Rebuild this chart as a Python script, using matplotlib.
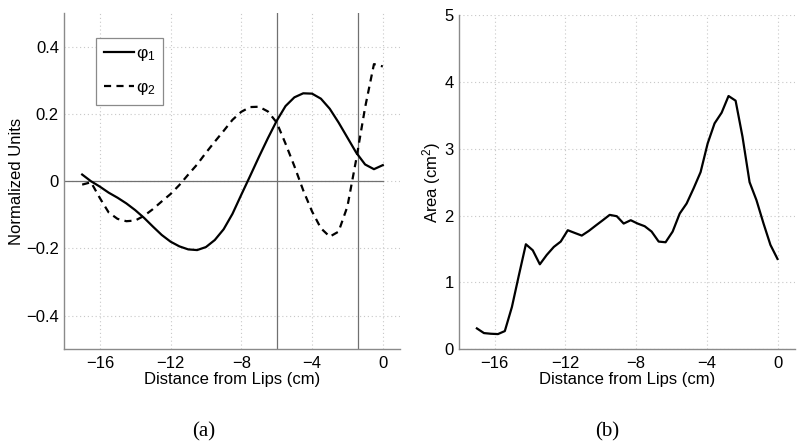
import matplotlib
matplotlib.use("Agg")
import matplotlib.pyplot as plt

plt.rcParams['font.family'] = ['Liberation Sans', 'DejaVu Sans']
plt.rcParams['mathtext.fontset'] = 'custom'
plt.rcParams['mathtext.rm'] = 'Liberation Sans'
plt.rcParams['mathtext.it'] = 'Liberation Sans:italic'

# ---- Panel (a) data ----
x_phi = [-17.0, -16.5, -16.0, -15.5, -15.0, -14.5, -14.0, -13.5, -13.0, -12.5,
         -12.0, -11.5, -11.0, -10.5, -10.0, -9.5, -9.0, -8.5, -8.0, -7.5,
         -7.0, -6.5, -6.0, -5.5, -5.0, -4.5, -4.0, -3.5, -3.0, -2.5,
         -2.0, -1.5, -1.0, -0.5, 0.0]
phi1 = [0.020, 0.000, -0.016, -0.034, -0.049, -0.066, -0.086, -0.109, -0.135, -0.160,
        -0.180, -0.194, -0.203, -0.205, -0.196, -0.175, -0.143, -0.097, -0.040, 0.016,
        0.073, 0.128, 0.180, 0.224, 0.250, 0.262, 0.261, 0.246, 0.216, 0.175,
        0.130, 0.085, 0.050, 0.036, 0.048]
phi2 = [-0.010, -0.003, -0.050, -0.093, -0.112, -0.119, -0.117, -0.103, -0.083, -0.060,
        -0.038, -0.011, 0.020, 0.050, 0.085, 0.118, 0.150, 0.183, 0.207, 0.221,
        0.222, 0.208, 0.175, 0.112, 0.045, -0.027, -0.090, -0.140, -0.165, -0.150,
        -0.075, 0.066, 0.220, 0.349, 0.342]
vlines_a = [-6.0, -1.4]
labels_a = ['φ$_1$', 'φ$_2$']

# ---- Panel (b) data ----
x_area = [-17.00, -16.60, -16.21, -15.81, -15.42, -15.02, -14.63, -14.23, -13.84, -13.44,
          -13.05, -12.65, -12.26, -11.86, -11.47, -11.07, -10.67, -10.28, -9.88, -9.49,
          -9.09, -8.70, -8.30, -7.91, -7.51, -7.12, -6.72, -6.33, -5.93, -5.53,
          -5.14, -4.74, -4.35, -3.95, -3.56, -3.16, -2.77, -2.37, -1.98, -1.58,
          -1.19, -0.79, -0.40, 0.00]
area = [0.31, 0.24, 0.23, 0.225, 0.27, 0.63, 1.10, 1.57, 1.48, 1.27,
        1.41, 1.53, 1.61, 1.78, 1.74, 1.70, 1.77, 1.85, 1.93, 2.01,
        1.99, 1.88, 1.93, 1.88, 1.84, 1.76, 1.61, 1.60, 1.76, 2.03,
        2.18, 2.41, 2.65, 3.08, 3.38, 3.54, 3.79, 3.72, 3.18, 2.50,
        2.23, 1.88, 1.56, 1.35]

xticks = [-16, -12, -8, -4, 0]
xtick_labels = ['\u221216', '\u221212', '\u22128', '\u22124', '0']
yticks_a = [-0.4, -0.2, 0, 0.2, 0.4]
ytick_labels_a = ['\u22120.4', '\u22120.2', '0', '0.2', '0.4']
yticks_b = [0, 1, 2, 3, 4, 5]

fig = plt.figure(figsize=(8, 4.47), dpi=100)
axa = fig.add_axes([0.0806, 0.219, 0.42, 0.751])
axb = fig.add_axes([0.574, 0.219, 0.42, 0.747])

FS = 12
grid_kw = dict(color='#c8c8c8', linestyle=(0, (1, 2.5)), linewidth=0.8)

def style(ax):
    ax.set_xlim(-18, 1)
    ax.set_xticks(xticks)
    ax.set_xticklabels(xtick_labels)
    ax.grid(True, **grid_kw)
    ax.set_axisbelow(True)
    for s in ['top', 'right']:
        ax.spines[s].set_visible(False)
    for s in ['left', 'bottom']:
        ax.spines[s].set_color('#8a8a8a')
        ax.spines[s].set_linewidth(1.0)
    ax.tick_params(length=0, labelsize=FS, pad=5)
    ax.tick_params(axis='y', pad=4)
    ax.set_xlabel('Distance from Lips (cm)', fontsize=FS, labelpad=0.5)

# Panel (a)
style(axa)
axa.set_ylim(-0.5, 0.5)
axa.set_yticks(yticks_a)
axa.set_yticklabels(ytick_labels_a)
axa.plot([-18, 0], [0, 0], color='#707070', lw=0.9, zorder=1)
for v in vlines_a:
    axa.axvline(v, color='#707070', lw=0.9, zorder=1)
axa.plot(x_phi, phi1, color='black', lw=1.6, label=labels_a[0], zorder=3)
axa.plot(x_phi, phi2, color='black', lw=1.6, linestyle=(0, (3.2, 2.4)),
         label=labels_a[1], zorder=3)
axa.set_ylabel('Normalized Units', fontsize=FS)
axa.yaxis.set_label_coords(-0.12, 0.5)
leg = axa.legend(loc='upper left', bbox_to_anchor=(0.094, 0.926), fontsize=FS + 0.5,
                 frameon=True, fancybox=False, framealpha=1, edgecolor='#8a8a8a',
                 handlelength=1.75, handletextpad=0.1, labelspacing=0.95,
                 borderpad=0.45, borderaxespad=0)
leg.get_frame().set_linewidth(0.9)

# Panel (b)
style(axb)
axb.set_ylim(0, 5)
axb.set_yticks(yticks_b)
axb.plot(x_area, area, color='black', lw=1.6, zorder=3)
axb.set_ylabel('Area (cm$^2$)', fontsize=FS)
axb.yaxis.set_label_coords(-0.048, 0.5)

fig.text(204 / 800, 1 - 432 / 447, '(a)', fontsize=15, family='Liberation Serif',
         ha='center', va='center')
fig.text(607 / 800, 1 - 432 / 447, '(b)', fontsize=15, family='Liberation Serif',
         ha='center', va='center')

fig.savefig('out.png', dpi=100)
